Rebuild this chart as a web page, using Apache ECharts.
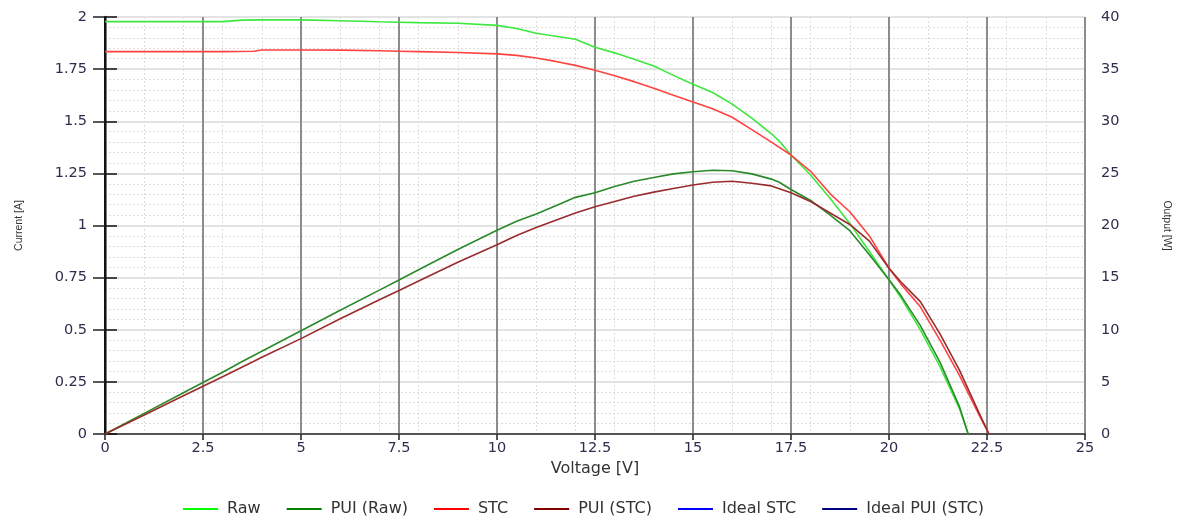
<!DOCTYPE html>
<html>
<head>
<meta charset="utf-8">
<script src="https://cdn.jsdelivr.net/npm/echarts@6/dist/echarts.min.js"></script>
<style>
  html, body { margin: 0; padding: 0; background: #fff; }
  #chart { width: 1178px; height: 517px; }
</style>
</head>
<body>
<div id="chart"></div>
<script>
// raw measurement (voltage V, current A, power W)
var rawVolt = [0, 1, 2, 3, 3.5, 4, 5, 6, 7, 7.5, 8, 9, 10, 10.5, 11, 11.5, 12, 12.5, 13, 13.5, 14, 14.5, 15, 15.5, 16, 16.5, 17, 17.2, 17.5, 18, 18.5, 19, 19.5, 20, 20.3, 20.8, 21.3, 21.8, 22.02];
var rawCurrent = [1.978, 1.978, 1.978, 1.978, 1.985, 1.986, 1.986, 1.982, 1.977, 1.975, 1.973, 1.97, 1.96, 1.945, 1.922, 1.908, 1.893, 1.855, 1.828, 1.797, 1.765, 1.72, 1.677, 1.638, 1.582, 1.515, 1.44, 1.405, 1.338, 1.242, 1.13, 1.01, 0.875, 0.739, 0.655, 0.499, 0.323, 0.12, 0];
var rawPower = [0, 1.98, 3.95, 5.93, 6.95, 7.94, 9.9, 11.87, 13.8, 14.78, 15.76, 17.7, 19.55, 20.4, 21.1, 21.9, 22.7, 23.15, 23.75, 24.25, 24.6, 24.95, 25.15, 25.3, 25.25, 24.95, 24.45, 24.15, 23.45, 22.4, 21.0, 19.5, 17.2, 14.8, 13.3, 10.4, 6.9, 2.6, 0];

// corrected to STC
var stcVolt = [0, 1, 2, 3, 3.8, 4, 5, 6, 7, 7.5, 8, 9, 10, 10.5, 11, 11.5, 12, 12.5, 13, 13.5, 14, 14.5, 15, 15.5, 16, 16.5, 17, 17.5, 18, 18.5, 19, 19.5, 20, 20.3, 20.8, 21.3, 21.8, 22.3, 22.55];
var stcCurrent = [1.834, 1.834, 1.834, 1.834, 1.836, 1.842, 1.842, 1.841, 1.838, 1.836, 1.834, 1.83, 1.823, 1.816, 1.803, 1.787, 1.768, 1.745, 1.718, 1.69, 1.658, 1.625, 1.592, 1.56, 1.519, 1.46, 1.4, 1.338, 1.26, 1.152, 1.066, 0.95, 0.795, 0.72, 0.61, 0.45, 0.28, 0.09, 0];
var stcPower = [0, 1.83, 3.67, 5.5, 6.98, 7.37, 9.15, 11.05, 12.87, 13.77, 14.67, 16.47, 18.15, 19.05, 19.8, 20.5, 21.2, 21.8, 22.3, 22.8, 23.2, 23.55, 23.88, 24.15, 24.25, 24.05, 23.8, 23.15, 22.3, 21.2, 20.1, 18.5, 15.9, 14.6, 12.7, 9.6, 6.1, 2.0, 0];

// ideal curves have no points in this capture
var idealStc = [];
var idealPui = [];

var seriesNames = ['Raw', 'PUI (Raw)', 'STC', 'PUI (STC)', 'Ideal STC', 'Ideal PUI (STC)'];
var seriesColors = ['#3ce83c', '#2a8a2a', '#ff4343', '#992c2c', '#0000ff', '#000080'];
var legendColors = ['#00ff00', '#008000', '#ff0000', '#800000', '#0000ff', '#000080'];

function pairs(xs, ys) {
  return xs.map(function (x, i) { return [x, ys[i]]; });
}

var labelColor = '#2d2d4d';
var wideFont = 'DejaVu Sans, Verdana, sans-serif';
var narrowFont = 'Liberation Sans, Arial, sans-serif';

var chart = echarts.init(document.getElementById('chart'), null, { renderer: 'canvas' });

function line(idx, data, yIdx) {
  return {
    name: seriesNames[idx],
    type: 'line',
    xAxisIndex: 1,
    yAxisIndex: yIdx,
    data: data,
    symbol: 'none',
    smooth: false,
    color: seriesColors[idx],
    lineStyle: { width: 1.6, color: seriesColors[idx] }
  };
}

chart.setOption({
  animation: false,
  backgroundColor: '#fff',
  grid: { left: 105, right: 93, top: 17, bottom: 83, outerBoundsMode: 'none' },
  legend: {
    top: 496,
    left: 178,
    icon: 'rect',
    itemWidth: 35,
    itemHeight: 2,
    itemGap: 26,
    textStyle: { fontFamily: wideFont, fontSize: 16, color: '#333', padding: [0, 0, 0, 4] },
    data: seriesNames.map(function (n, i) {
      return { name: n, itemStyle: { color: legendColors[i] } };
    })
  },
  xAxis: [
    {
      // minor grid every 1 V
      type: 'value', min: 0, max: 25, interval: 1,
      position: 'top',
      axisLine: { show: false }, axisTick: { show: false }, axisLabel: { show: false },
      splitLine: { show: true, lineStyle: { color: '#dedede', type: [2, 2], width: 1 } }
    },
    {
      type: 'value', min: 0, max: 25, interval: 2.5,
      position: 'bottom',
      name: 'Voltage [V]',
      nameLocation: 'middle',
      nameGap: 27,
      nameTextStyle: { fontFamily: wideFont, fontSize: 16, color: '#333' },
      axisLine: { onZero: false, lineStyle: { color: '#555', width: 2 } },
      axisTick: { length: 6, lineStyle: { color: '#222', width: 1.5 } },
      axisLabel: { fontFamily: wideFont, fontSize: 14.5, color: labelColor, margin: 7 },
      splitLine: { show: true, lineStyle: { color: '#8c8c8c', width: 2 } }
    }
  ],
  yAxis: [
    {
      type: 'value', min: 0, max: 2, interval: 0.25,
      position: 'left',
      name: 'Current [A]',
      nameLocation: 'middle',
      nameRotate: 90,
      nameGap: 80,
      nameTextStyle: { fontFamily: narrowFont, fontSize: 10.5, color: '#333' },
      axisLine: { show: true, lineStyle: { color: '#555', width: 2.5 } },
      axisTick: { show: true, length: 12, lineStyle: { color: '#222', width: 1.5 } },
      axisLabel: { fontFamily: wideFont, fontSize: 14.5, color: labelColor, margin: 18 },
      splitLine: { show: true, lineStyle: { color: '#dadada', width: 1.5 } },
      minorTick: { show: false, splitNumber: 5 },
      minorSplitLine: { show: true, lineStyle: { color: '#dcdcdc', type: [2, 2], width: 1 } }
    },
    {
      type: 'value', min: 0, max: 40, interval: 5,
      position: 'right',
      name: 'Output [W]',
      nameLocation: 'middle',
      nameRotate: -90,
      nameGap: 76,
      nameTextStyle: { fontFamily: narrowFont, fontSize: 10.5, color: '#333' },
      axisLine: { show: true, lineStyle: { color: '#111', width: 2 } },
      axisTick: { show: true, length: 12, lineStyle: { color: '#111', width: 1.5 } },
      axisLabel: { fontFamily: wideFont, fontSize: 14.5, color: labelColor, margin: 16 },
      splitLine: { show: false }
    }
  ],
  series: [
    line(0, pairs(rawVolt, rawCurrent), 0),
    line(1, pairs(rawVolt, rawPower), 1),
    line(2, pairs(stcVolt, stcCurrent), 0),
    line(3, pairs(stcVolt, stcPower), 1),
    line(4, idealStc, 0),
    line(5, idealPui, 1)
  ]
});
</script>
</body>
</html>
